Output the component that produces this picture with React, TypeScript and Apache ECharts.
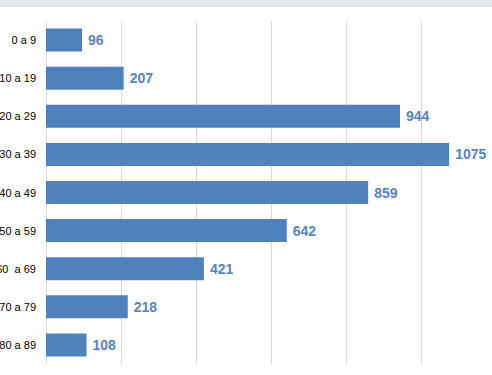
import React, { useEffect, useRef } from "react";
import * as echarts from "echarts";

const categories = ["0 a 9", "10 a 19", "20 a 29", "30 a 39", "40 a 49", "50 a 59", "60  a 69", "70 a 79", "80 a 89"];
const values = [96, 207, 944, 1075, 859, 642, 421, 218, 108];
const xTicks = { min: 0, max: 1200, interval: 200 };

export default function App() {
  const ref = useRef<HTMLDivElement>(null);
  useEffect(() => {
    document.body.style.margin = "0";
    const chart = echarts.init(ref.current!, null, { renderer: "svg" });
    chart.setOption({
      animation: false,
      backgroundColor: "#ffffff",
      graphic: [
        { type: "rect", left: 0, top: 0, shape: { x: 0, y: 0, width: 492, height: 7 }, style: { fill: "#dde6f1" } },
      ],
      grid: { left: 46, top: 21, width: 450, height: 343, containLabel: false, outerBoundsMode: "none" },
      xAxis: {
        type: "value",
        min: xTicks.min,
        max: xTicks.max,
        interval: xTicks.interval,
        axisLine: { show: false },
        axisTick: { show: false },
        splitLine: { show: true, lineStyle: { color: "#d9d9d9", width: 1 } },
        axisLabel: { color: "#595959", fontSize: 11, fontFamily: "Liberation Sans", margin: 9, formatter: (v: number) => String(v) },
      },
      yAxis: {
        type: "category",
        data: categories,
        inverse: true,
        axisLine: { show: true, lineStyle: { color: "#d9d9d9", width: 1 } },
        axisTick: { show: false },
        axisLabel: { color: "#000000", fontSize: 11, fontFamily: "Liberation Sans", margin: 10 },
      },
      series: [
        {
          type: "bar",
          data: values,
          barWidth: 23,
          itemStyle: { color: "#4f81bd" },
          label: {
            show: true,
            position: "right",
            distance: 6,
            color: "#5585c0",
            fontSize: 14,
            fontWeight: "bold",
            fontFamily: "Liberation Sans",
          },
        },
      ],
    });
    return () => chart.dispose();
  }, []);
  return <div ref={ref} style={{ width: 492, height: 375 }} />;
}
